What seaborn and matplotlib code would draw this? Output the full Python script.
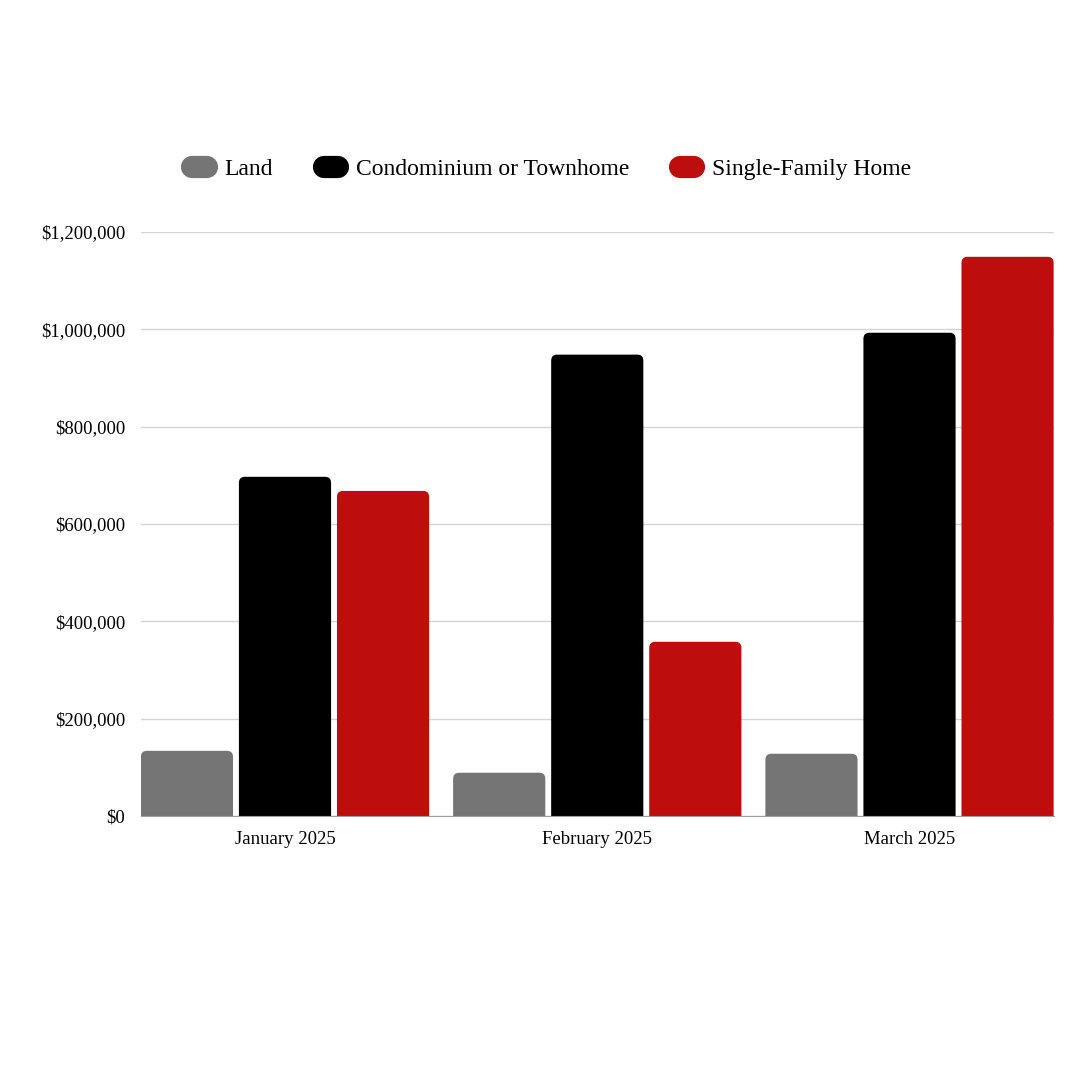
import pandas as pd
import matplotlib.pyplot as plt
import seaborn as sns
from matplotlib.patches import FancyBboxPatch
from matplotlib.lines import Line2D
from matplotlib.ticker import FuncFormatter

# data
months = ["January 2025", "February 2025", "March 2025"]
land = [134000, 89000, 128000]
condo = [697000, 948000, 993000]
single_family = [668000, 358000, 1149000]
series = ["Land", "Condominium or Townhome", "Single-Family Home"]
colors = ["#757575", "#000000", "#bd0d0d"]

df = pd.DataFrame({
    "month": months * 3,
    "type": [series[0]] * 3 + [series[1]] * 3 + [series[2]] * 3,
    "price": land + condo + single_family,
})

sns.set_style("white")
plt.rcParams["font.family"] = ["Liberation Serif", "DejaVu Serif"]
plt.rcParams["text.color"] = "#000000"

fig = plt.figure(figsize=(10.8, 10.8), dpi=100)
ax = fig.add_axes([0.1306, 0.2444, 0.8454, 0.5408])

sns.barplot(data=df, x="month", y="price", hue="type", order=months,
            hue_order=series, palette=colors, saturation=1, width=0.942,
            gap=0.06, errorbar=None, ax=ax, legend=False, zorder=3)

ax.set_xlim(-0.461, 2.463)
ax.set_ylim(0, 1200000)

# swap the square bars for ones with rounded tops
rx = 0.019
ry = 12300
for bar in list(ax.patches):
    x, w, h = bar.get_x(), bar.get_width(), bar.get_height()
    rounded = FancyBboxPatch((x, -3 * ry), w, h + 3 * ry,
                             boxstyle=f"round,pad=0,rounding_size={rx}",
                             mutation_aspect=ry / rx,
                             facecolor=bar.get_facecolor(), edgecolor="none",
                             zorder=3)
    bar.remove()
    ax.add_patch(rounded)

# grid and axes
ax.set_yticks(range(0, 1200001, 200000))
ax.yaxis.set_major_formatter(FuncFormatter(lambda v, p: f"${v:,.0f}"))
ax.grid(axis="y", color="#d4d4d4", linewidth=1, zorder=0)
ax.grid(axis="x", visible=False)
for s in ["top", "right", "left"]:
    ax.spines[s].set_visible(False)
ax.spines["bottom"].set_color("#9e9e9e")
ax.spines["bottom"].set_zorder(4)
ax.tick_params(axis="both", length=0, labelsize=13.5, colors="#000000")
ax.tick_params(axis="y", pad=11.5)
ax.tick_params(axis="x", pad=11)
ax.set_xlabel("")
ax.set_ylabel("")

# legend with pill-shaped keys
handles = [Line2D([0, 1], [0, 0], color=c, lw=16, solid_capstyle="round")
           for c in colors]
fig.legend(handles, series, loc="center", bbox_to_anchor=(0.511, 0.843),
           ncol=3, frameon=False, fontsize=17, handlelength=0.6,
           handletextpad=0.76, columnspacing=2.15, labelcolor="#000000")

plt.savefig("out.png", dpi=100)
